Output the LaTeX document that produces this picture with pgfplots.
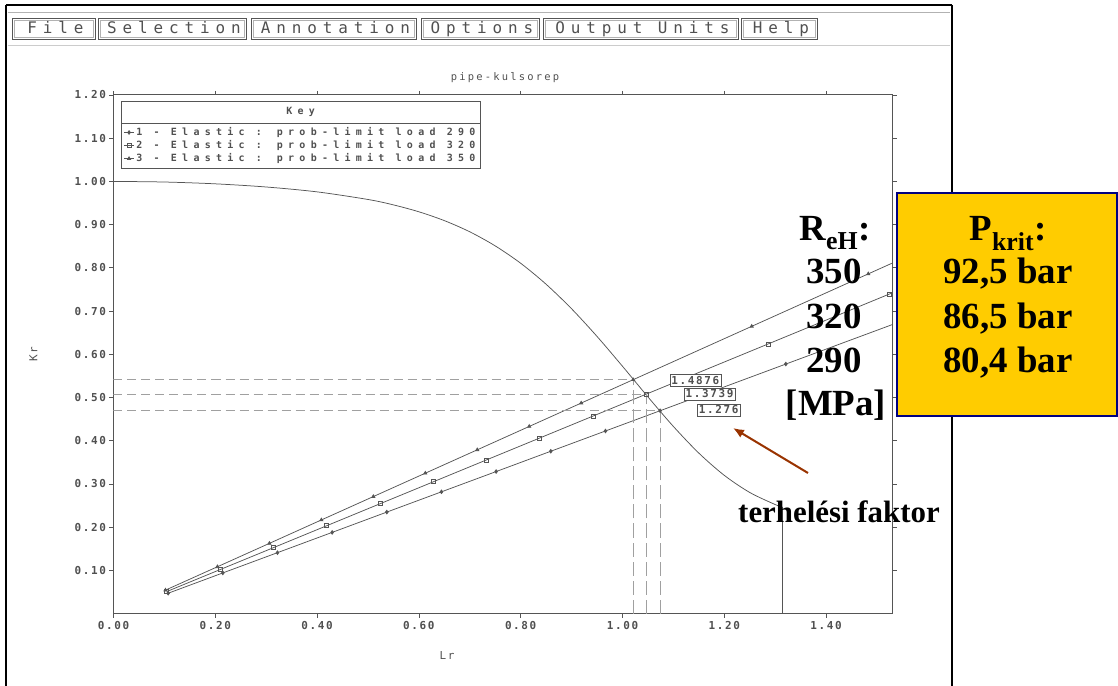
\documentclass[border=0pt]{standalone}
\usepackage{fontspec}
\setmainfont{Liberation Serif}
\newfontfamily\pixtick[LetterSpace=15]{DejaVu Sans Mono}
\newfontfamily\pixleg[LetterSpace=53]{DejaVu Sans Mono}
\newfontfamily\pixmenu[LetterSpace=37]{DejaVu Sans Mono}
\newfontfamily\pixtitle[LetterSpace=21]{DejaVu Sans Mono}
\usepackage{pgfplots}
\pgfplotsset{compat=1.18}
\usetikzlibrary{calc,arrows.meta}
\definecolor{plotgray}{HTML}{555555}
\definecolor{textgray}{HTML}{505050}
\definecolor{dashgray}{HTML}{A0A0A0}
\definecolor{krit}{HTML}{FFCC00}
\definecolor{navyb}{HTML}{000080}
\definecolor{arrowbrown}{HTML}{993300}
\begin{document}
\begin{tikzpicture}
\path[use as bounding box] (-113.5bp,-72.5bp) rectangle (1004.5bp,613.5bp);
\begin{axis}[
  at={(0,0)}, anchor=south west,
  scale only axis, width=779.2bp, height=518.5bp,
  xmin=0, xmax=1.531, ymin=0, ymax=1.2,
  xtick={0,0.2,0.4,0.6,0.8,1.0,1.2,1.4},
  ytick={0.1,0.2,0.3,0.4,0.5,0.6,0.7,0.8,0.9,1.0,1.1,1.2},
  tick align=outside, major tick length=4bp,
  axis line style={plotgray, line width=1pt},
  tick style={plotgray, line width=0.7pt},
  every tick label/.append style={font=\pixtick\bfseries\fontsize{11}{12}\selectfont, text=textgray},
  /pgf/number format/.cd, fixed, fixed zerofill, precision=2, assume math mode=true, /pgfplots/.cd,
  xlabel={Lr}, ylabel={Kr},
  xlabel style={font=\pixtick\fontsize{11}{12}\selectfont, text=textgray, at={(axis description cs:0.428,0)}, anchor=center, yshift=-42.5bp},
  ylabel style={font=\pixtick\fontsize{11}{12}\selectfont, text=textgray, at={(axis description cs:0,0.5)}, anchor=center, yshift=80bp},
  title={pipe-kulsorep},
  title style={font=\pixtitle\fontsize{10.5}{11}\selectfont, text=textgray, at={(axis description cs:0.5024,1)}, anchor=center, yshift=11bp},
  legend style={name=key, at={(axis description cs:0.0096,0.946)}, anchor=north west, draw=plotgray, fill=white,
    font=\pixleg\bfseries\fontsize{10}{10}\selectfont, text=textgray, row sep=-0.5bp, inner sep=2.5bp},
  legend cell align=left,
  legend image code/.code={\draw[mark repeat=2,mark phase=2] plot coordinates {(0bp,0bp) (5bp,0bp) (10bp,0bp)};},
]
% loading paths
\addplot[plotgray, line width=0.75pt, mark=diamond*, mark size=1.8bp, mark options={solid, fill=plotgray}] coordinates {
 (0.1074,0.0469) (0.2148,0.0939) (0.3222,0.1408) (0.4296,0.1877) (0.5370,0.2347) (0.6444,0.2816)
 (0.7518,0.3285) (0.8592,0.3755) (0.9666,0.4224) (1.074,0.4693) (1.321,0.5773)};
\addlegendentry{1 - Elastic : prob-limit load 290}
\addplot[plotgray, line width=0.75pt, mark=square, mark size=2bp, mark options={solid}] coordinates {
 (0.1047,0.0508) (0.2094,0.1016) (0.3141,0.1523) (0.4188,0.2031) (0.5235,0.2539) (0.6282,0.3047)
 (0.7329,0.3555) (0.8376,0.4062) (0.9423,0.4570) (1.047,0.5078) (1.286,0.6237) (1.525,0.7396)};
\addlegendentry{2 - Elastic : prob-limit load 320}
\addplot[plotgray, line width=0.75pt, mark=triangle*, mark size=1.8bp, mark options={solid, fill=plotgray}] coordinates {
 (0.1021,0.0541) (0.2042,0.1082) (0.3063,0.1623) (0.4084,0.2165) (0.5105,0.2706) (0.6126,0.3247)
 (0.7147,0.3788) (0.8168,0.4329) (0.9189,0.4870) (1.021,0.5411) (1.254,0.6646) (1.483,0.7860)};
\addlegendentry{3 - Elastic : prob-limit load 350}
% extensions to the right border
\addplot[plotgray, line width=0.75pt, forget plot] coordinates {(1.321,0.5773) (1.531,0.6690)};
\addplot[plotgray, line width=0.75pt, forget plot] coordinates {(1.525,0.7396) (1.531,0.7425)};
\addplot[plotgray, line width=0.75pt, forget plot] coordinates {(1.483,0.7860) (1.531,0.8114)};
% failure assessment curve
\addplot[plotgray, line width=0.75pt, smooth, forget plot] coordinates {
 (0,1.0) (0.1,0.9986) (0.2,0.9944) (0.3,0.9871) (0.4,0.9758) (0.5,0.9582) (0.55,0.9457) (0.6,0.9297)
 (0.65,0.9093) (0.7,0.8834) (0.75,0.8508) (0.8,0.8106) (0.85,0.7620) (0.9,0.7053) (0.95,0.6413)
 (1.0,0.5723) (1.05,0.5014) (1.1,0.4330) (1.15,0.3713) (1.2,0.3198) (1.25,0.2802) (1.3,0.2522) (1.315,0.2458)};
\addplot[plotgray, line width=0.75pt, forget plot] coordinates {(1.315,0) (1.315,0.2458)};
% dashed guide lines
\addplot[dashgray, line width=0.8pt, dash pattern=on 9bp off 5bp, forget plot] coordinates {(0,0.541) (1.021,0.541)};
\addplot[dashgray, line width=0.8pt, dash pattern=on 9bp off 5bp, forget plot] coordinates {(0,0.508) (1.047,0.508)};
\addplot[dashgray, line width=0.8pt, dash pattern=on 9bp off 5bp, forget plot] coordinates {(0,0.469) (1.074,0.469)};
\addplot[dashgray, line width=0.8pt, dash pattern=on 14bp off 5bp, forget plot] coordinates {(1.021,0) (1.021,0.541)};
\addplot[dashgray, line width=0.8pt, dash pattern=on 14bp off 5bp, forget plot] coordinates {(1.047,0) (1.047,0.508)};
\addplot[dashgray, line width=0.8pt, dash pattern=on 14bp off 5bp, forget plot] coordinates {(1.074,0) (1.074,0.469)};
% load factor labels
\node[draw=plotgray, fill=white, inner xsep=1.5bp, inner ysep=1.8bp, font=\pixtick\bfseries\fontsize{11}{11}\selectfont, text=textgray, anchor=west] at (axis cs:1.093,0.54) {1.4876};
\node[draw=plotgray, fill=white, inner xsep=1.5bp, inner ysep=1.8bp, font=\pixtick\bfseries\fontsize{11}{11}\selectfont, text=textgray, anchor=west] at (axis cs:1.121,0.508) {1.3739};
\node[draw=plotgray, fill=white, inner xsep=1.5bp, inner ysep=1.8bp, font=\pixtick\bfseries\fontsize{11}{11}\selectfont, text=textgray, anchor=west] at (axis cs:1.147,0.471) {1.276};
\end{axis}
% Key header
\draw[plotgray, fill=white] (key.north west) rectangle ($(key.north east)+(0,22bp)$);
\node[font=\pixleg\bfseries\fontsize{10}{10}\selectfont, text=textgray] at ($(key.north)+(0,11bp)$) {Key};
% window decorations and annotations in pixel coordinates
\begin{scope}[x=1bp, y=-1bp, shift={(-113.5bp,613.5bp)}]
  \draw[black, line width=1.6bp] (6,5) -- (952,5);
  \draw[black, line width=1.2bp] (6,5) -- (6,690);
  \draw[black, line width=1.2bp] (952,5) -- (952,690);
  \draw[gray!60, line width=0.8bp] (8,12) -- (950,12);
  \draw[gray!40, line width=0.8bp] (8,45) -- (950,45);
  \foreach \a/\b/\t in {12/95/File, 98/246/Selection, 251/416/Annotation, 421/539/Options, 543/738/Output Units, 741/817/Help}{
    \draw[plotgray, line width=0.8bp] (\a,18) rectangle (\b,39);
    \draw[gray!60, line width=0.5bp] (\a+2,20) rectangle (\b-2,37);
    \node[font=\pixmenu\fontsize{16}{16}\selectfont, text=textgray, anchor=base] at ({(\a+\b)/2+2},34) {\t};
  }
  % R_eH column
  \node[font=\bfseries\fontsize{37}{37}\selectfont, anchor=base] at (835,241) {R\textsubscript{eH}:};
  \node[font=\bfseries\fontsize{37}{37}\selectfont, anchor=base] at (834,284) {350};
  \node[font=\bfseries\fontsize{37}{37}\selectfont, anchor=base] at (834,329) {320};
  \node[font=\bfseries\fontsize{37}{37}\selectfont, anchor=base] at (834,373) {290};
  \node[font=\bfseries\fontsize{37}{37}\selectfont, anchor=base] at (836,416) {[MPa]};
  % P_krit box
  \draw[navyb, line width=2bp, fill=krit] (897.5,193) rectangle (1117,416);
  \node[font=\bfseries\fontsize{37}{37}\selectfont, anchor=base] at (1008,241) {P\textsubscript{krit}:};
  \node[font=\bfseries\fontsize{37}{37}\selectfont, anchor=base] at (1008,284) {92,5 bar};
  \node[font=\bfseries\fontsize{37}{37}\selectfont, anchor=base] at (1008,329) {86,5 bar};
  \node[font=\bfseries\fontsize{37}{37}\selectfont, anchor=base] at (1008,373) {80,4 bar};
  % arrow and label
  \draw[arrowbrown, line width=2bp, -{Latex[length=11bp,width=9bp]}] (808,473) -- (733,428);
  \node[font=\bfseries\fontsize{31}{31}\selectfont] at (839,512) {terhelési faktor};
\end{scope}
\end{tikzpicture}
\end{document}
